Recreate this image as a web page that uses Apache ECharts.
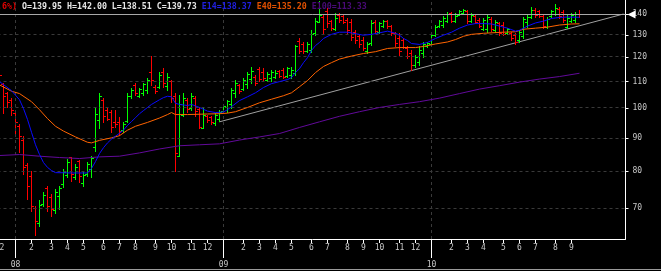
<!DOCTYPE html>
<html><head><meta charset="utf-8">
<style>html,body{margin:0;padding:0;background:#000;}#c{width:661px;height:271px;}</style>
<script src="https://cdn.jsdelivr.net/npm/echarts@6/dist/echarts.min.js"></script>
</head><body><div id="c"></div>
<script>
// ---- data ----
const startWeek = '2007-12-07';   // first weekly bar (Friday)
const weekCount = 157;            // weekly slots on the axis
const yTicks = [70, 80, 90, 100, 110, 120, 130, 140];
const yRange = [62.74, 147.17];   // log price axis range
const changeText = '(-0.6%)';
// weekly bars: [open, high, low, close]
const ohlc = [
[113.8,114.5,111.5,112.4],[108.8,109.2,98.1,104.2],[105.4,105.8,100.4,102.0],[103.0,103.5,97.4,99.2],
[98.1,98.8,91.5,95.1],[93.8,94.5,85.3,90.3],[89.0,90.3,79.0,81.0],[81.5,82.2,72.3,75.7],
[78.4,79.8,69.1,70.5],[70.0,70.5,63.5,66.7],[66.4,72.1,65.7,70.8],[71.0,74.1,70.5,73.3],
[75.2,75.7,69.1,70.5],[72.8,73.6,68.1,69.8],[69.4,74.9,68.8,74.1],[73.1,75.7,69.8,75.2],
[76.2,80.4,75.4,79.4],[78.8,83.3,78.2,82.4],[83.9,83.9,77.0,79.0],[78.2,81.8,77.6,80.9],
[82.7,82.9,76.8,78.5],[76.5,79.8,75.7,78.8],[79.0,82.4,78.5,81.8],[80.4,84.2,78.2,83.6],
[86.9,99.9,85.7,97.8],[95.8,105.4,93.1,104.2],[102.8,103.5,95.1,97.0],[99.2,99.9,95.8,96.2],
[98.5,99.2,91.9,93.5],[95.1,99.2,93.5,94.5],[95.1,96.7,90.9,92.2],[92.5,95.1,91.9,94.5],
[95.5,105.4,95.1,104.2],[104.2,107.3,103.5,106.5],[108.4,109.2,104.6,105.4],[104.2,107.3,103.9,106.9],
[105.4,109.2,104.6,108.8],[106.5,111.2,105.4,110.4],[113.6,120.1,108.4,110.4],[107.7,108.4,105.4,106.1],
[107.7,113.6,107.3,112.4],[113.6,115.2,107.7,109.2],[108.0,113.2,106.5,111.6],[110.0,110.4,102.0,103.5],
[104.2,105.4,79.8,85.0],[84.2,104.6,84.2,101.4],[97.4,105.4,97.0,103.5],[102.8,103.5,98.5,99.5],
[99.9,105.4,99.2,104.2],[103.5,104.2,97.0,98.8],[99.5,100.4,93.1,93.5],[93.1,99.9,93.1,97.4],
[97.0,97.4,95.1,95.8],[96.7,97.0,94.5,95.1],[94.8,98.1,94.1,97.4],[96.0,99.2,95.3,98.5],
[98.8,101.0,98.5,100.7],[100.4,102.8,98.5,102.4],[101.4,107.3,100.0,106.5],[105.4,110.4,103.9,109.2],
[108.4,108.8,105.4,106.1],[106.9,111.2,106.5,110.4],[108.8,113.6,107.3,112.8],[110.8,115.6,109.2,114.0],
[111.6,112.4,108.4,109.2],[114.8,115.6,110.0,110.8],[113.6,115.2,110.0,111.2],[110.4,113.6,110.0,112.8],
[111.2,114.4,110.0,113.6],[111.6,114.4,111.2,113.2],[114.0,114.4,111.6,112.0],[114.4,115.2,111.2,111.6],
[112.0,115.6,111.6,115.2],[112.4,115.6,111.2,114.4],[113.2,125.2,112.4,124.7],[127.0,128.3,121.5,122.4],
[125.6,126.5,121.5,122.4],[122.4,126.5,122.0,125.6],[122.9,132.1,122.0,130.2],[130.7,138.0,129.8,136.5],
[136.0,146.5,135.6,139.5],[138.5,139.5,130.7,132.6],[141.5,143.0,133.6,135.1],[136.5,137.0,132.1,133.1],
[132.6,140.5,132.1,138.0],[139.5,140.5,136.0,137.0],[139.0,139.5,135.1,136.0],[137.0,138.0,130.7,132.1],
[135.6,137.5,127.4,128.8],[131.2,132.1,126.0,127.4],[129.3,129.8,124.3,125.6],[127.4,128.8,122.9,123.8],
[122.4,126.5,121.5,125.6],[126.0,137.0,125.2,135.1],[136.0,137.0,130.7,131.7],[131.2,136.0,130.7,135.1],
[134.1,137.0,133.6,136.5],[136.5,137.0,133.1,134.1],[134.1,134.6,129.8,130.7],[130.7,131.2,124.7,126.0],
[128.3,130.7,120.7,122.4],[127.4,128.3,123.8,124.3],[123.8,124.7,119.4,120.3],[121.5,122.9,114.4,116.5],
[116.5,120.7,115.6,119.8],[117.7,124.7,116.5,122.9],[121.5,126.5,119.8,125.6],[124.7,126.5,124.3,126.0],
[125.6,130.7,125.2,129.8],[129.8,134.6,129.3,133.6],[134.1,137.0,133.6,136.5],[134.6,139.0,133.6,138.0],
[136.5,141.0,136.0,140.0],[140.5,141.0,136.0,136.5],[136.5,140.5,136.0,139.0],[139.5,142.0,139.5,141.5],
[140.5,142.5,140.5,142.0],[141.5,142.0,135.1,136.5],[136.5,140.5,135.6,139.5],[139.0,139.5,135.1,135.6],
[137.0,138.0,133.6,134.1],[132.6,138.0,132.1,137.0],[132.6,139.5,131.2,138.5],[137.5,138.5,131.7,132.6],
[132.1,137.0,131.2,135.6],[135.1,135.6,129.8,130.7],[134.6,135.6,129.8,130.2],[130.7,133.1,130.2,132.6],
[130.7,131.2,127.4,128.3],[129.8,130.7,125.6,126.5],[127.4,132.1,126.5,131.2],[129.3,138.5,128.3,137.5],
[136.0,139.5,133.6,138.5],[138.5,143.5,138.0,142.0],[142.0,143.0,138.5,139.5],[141.5,142.0,138.5,139.0],
[139.0,139.5,133.1,134.1],[133.6,138.5,133.1,137.5],[139.0,142.0,138.5,141.5],[140.0,144.6,139.5,143.0],
[142.5,143.5,138.0,139.0],[141.0,142.0,136.0,137.0],[133.6,139.5,133.1,138.0],[136.5,140.5,136.0,139.5],
[137.0,141.0,136.0,140.0],[139.95,142.00,138.51,139.73]
];
// moving averages: [week index, value]
const ema14 = [[0,110.0],[3,106.5],[5,103.1],[6,99.9],[7,96.1],[8,91.8],[9,87.8],[10,84.8],[11,82.4],[12,81.0],[13,80.1],[14,79.5],[18,79.4],[22,79.4],[23,80.7],[24,82.7],[25,85.1],[26,86.9],[27,88.4],[28,89.6],[30,91.5],[31,92.5],[32,94.1],[33,95.4],[34,96.7],[35,98.1],[36,99.2],[37,100.3],[38,101.4],[40,103.1],[41,103.9],[42,104.4],[43,104.2],[44,101.8],[45,101.4],[47,101.0],[48,101.4],[50,100.3],[52,99.0],[54,98.5],[56,98.7],[57,99.5],[58,100.6],[60,102.8],[62,104.2],[64,105.7],[66,107.7],[68,109.2],[70,110.0],[72,110.8],[73,111.6],[74,113.6],[75,115.2],[76,117.7],[77,119.8],[78,122.9],[79,125.1],[80,126.5],[81,128.3],[83,130.2],[85,131.2],[87,131.2],[89,130.5],[91,129.8],[93,130.2],[95,130.9],[97,131.7],[99,130.7],[100,129.8],[101,128.3],[102,127.4],[103,126.0],[105,125.6],[107,126.5],[109,128.3],[111,129.8],[113,131.2],[115,133.1],[117,134.6],[119,135.3],[121,135.3],[123,135.1],[125,134.1],[127,133.1],[129,131.7],[130,132.1],[132,134.1],[134,135.6],[136,136.5],[138,137.8],[140,138.3],[142,138.5],[145,138.37]];
const ema40 = [[0,108.7],[3,106.3],[5,105.4],[8,102.4],[10,99.5],[12,96.4],[14,93.8],[16,92.2],[19,90.3],[22,88.6],[23,88.4],[25,89.2],[28,90.0],[30,90.7],[32,92.5],[34,93.8],[37,95.1],[40,96.6],[42,97.8],[43,98.5],[44,97.8],[47,97.8],[52,98.0],[55,98.1],[57,98.3],[59,98.8],[62,100.3],[65,102.0],[68,103.3],[71,104.6],[73,105.7],[75,108.0],[77,110.4],[79,113.6],[81,116.1],[83,117.7],[85,119.2],[88,120.5],[91,121.6],[94,122.4],[97,123.8],[100,124.2],[104,124.2],[106,124.7],[109,125.8],[112,126.7],[114,127.8],[116,129.3],[118,130.2],[121,130.7],[126,131.2],[129,131.4],[131,132.6],[134,133.1],[137,133.6],[140,134.6],[143,135.1],[145,135.20]];
const ema100 = [[0,84.5],[5,84.8],[10,84.3],[15,83.9],[20,83.6],[25,84.1],[30,84.3],[35,85.3],[40,86.5],[45,87.5],[50,87.8],[55,88.1],[60,89.3],[65,90.3],[70,91.4],[75,93.4],[80,95.3],[85,97.2],[90,98.8],[95,100.3],[100,101.4],[105,102.4],[110,103.7],[115,105.4],[120,107.1],[125,108.4],[130,109.8],[135,111.0],[140,112.0],[145,113.33]];
const trend = [[55,95.3],[156,140.0]];

// ---- build ----
const cats = [];
{ let t = Date.parse(startWeek + 'T00:00:00Z');
  for (let i = 0; i < weekCount; i++) { cats.push(new Date(t).toISOString().slice(0,10)); t += 7*86400000; } }
const nBars = ohlc.length;
const mon = s => +s.slice(5,7);
const isMonthStart = i => i < nBars && (i === 0 || mon(cats[i]) !== mon(cats[i-1]));
const isYearStart = i => i > 0 && i < nBars && cats[i].slice(0,4) !== cats[i-1].slice(0,4);
const monthTick = i => isMonthStart(i) && !isYearStart(i);
const yearIdx = cats.map((c,i)=>i).filter(isYearStart);
const L = Math.log;
const FONT = 'DejaVu Sans Mono';
const TFONT = 'bold 8.3px "' + FONT + '"';
const last = ohlc[nBars-1];
const lastOf = a => a[a.length-1][1].toFixed(2);
const f2 = v => v.toFixed(2);

const chart = echarts.init(document.getElementById('c'), null, {renderer:'canvas'});
const lineS = (name, data, color, z) => ({
  name, type:'line', data: data.map(p => [p[0], L(p[1])]), symbol:'none', silent:true,
  lineStyle:{color, width:1}, z, animation:false
});

chart.setOption({
  backgroundColor:'#000',
  animation:false,
  grid:{left:-2.5, right:35.5, top:0, bottom:32, containLabel:false, outerBoundsMode:'none'},
  xAxis:[
    { type:'category', data:cats, boundaryGap:true, position:'bottom',
      axisLine:{show:true, lineStyle:{color:'#ffffff', width:1}},
      axisTick:{show:true, alignWithLabel:true, length:4, interval:(i)=>monthTick(i), lineStyle:{color:'#ffffff'}},
      axisLabel:{show:true, interval:(i)=>monthTick(i), formatter:(v)=>String(mon(v)), color:'#c8c8c8', fontFamily:FONT, fontSize:8, margin:5},
      splitLine:{show:false} },
    { type:'category', data:cats, boundaryGap:true, position:'bottom', offset:0,
      axisLine:{show:false},
      axisTick:{show:true, alignWithLabel:true, length:19, interval:(i)=>isYearStart(i), lineStyle:{color:'#ffffff'}},
      axisLabel:{show:true, interval:(i)=>isYearStart(i), formatter:(v)=>v.slice(2,4), color:'#c8c8c8', fontFamily:FONT, fontSize:8, margin:22},
      splitLine:{show:false} }
  ],
  yAxis:{ type:'value', position:'right', min:L(yRange[0]), max:L(yRange[1]), scale:true,
    axisLine:{show:true, lineStyle:{color:'#ffffff', width:1}},
    axisTick:{show:true, customValues:yTicks.map(L), length:3, lineStyle:{color:'#ffffff'}},
    axisLabel:{show:true, customValues:yTicks.map(L), formatter:(v)=>String(Math.round(Math.exp(v))), color:'#c8c8c8', fontFamily:FONT, fontSize:8, margin:7},
    splitLine:{show:false} },
  graphic:[
    { type:'text', x:-18, y:7, silent:true, z:100,
      style:{ text:'{r|'+changeText+'} {w|O='+f2(last[0])+' H='+f2(last[1])+' L='+f2(last[2])+' C='+f2(last[3])+'} {b|E14='+lastOf(ema14)+'} {o|E40='+lastOf(ema40)+'} {p|E100='+lastOf(ema100)+'}',
        font:TFONT, fill:'#e0e0e0', verticalAlign:'middle',
        rich:{ r:{fill:'#e00000', font:TFONT}, w:{fill:'#e6e6e6', font:TFONT},
               b:{fill:'#2020e0', font:TFONT}, o:{fill:'#e05000', font:TFONT},
               p:{fill:'#4a0a78', font:TFONT} } } },
    { type:'rect', shape:{x:0, y:269, width:661, height:1}, style:{fill:'#9a9a9a'}, silent:true }
  ],
  series:[
    { name:'grid', type:'line', data:[], z:1, silent:true,
      markLine:{ silent:true, symbol:'none', animation:false, label:{show:false},
        lineStyle:{color:'#3a3a3a', type:[3,3], width:1},
        data:[ ...yTicks.map(t=>({yAxis:L(t)})), ...yearIdx.map(i=>({xAxis:i})) ] } },
    lineS('trend', trend, '#a0a0a0', 3),
    { name:'bars', type:'custom', z:4, silent:true, clip:true,
      data: ohlc.map((r,i)=>[i, L(r[0]), L(r[1]), L(r[2]), L(r[3])]),
      encode:{x:0, y:[1,2,3,4]},
      renderItem:(params, api)=>{
        const i = api.value(0);
        const o = api.coord([i, api.value(1)]), h = api.coord([i, api.value(2)]);
        const l = api.coord([i, api.value(3)]), c = api.coord([i, api.value(4)]);
        const col = Math.floor(o[0]);
        const color = api.value(4) >= api.value(1) ? '#00ff00' : '#ff0000';
        const ry = y => Math.round(y - 0.5);
        const top = ry(h[1]), bot = ry(l[1]);
        return { type:'group', children:[
          {type:'rect', shape:{x:col, y:top, width:1, height:Math.max(1, bot-top+1)}, style:{fill:color}},
          {type:'rect', shape:{x:col-2, y:ry(o[1]), width:2, height:1}, style:{fill:color}},
          {type:'rect', shape:{x:col+1, y:ry(c[1]), width:2, height:1}, style:{fill:color}}
        ]};
      },
      markLine:{ silent:true, symbol:'none', animation:false, label:{show:false},
        lineStyle:{color:'#a8a8a8', type:'solid', width:1},
        data:[{yAxis:L(last[3])}] },
      markPoint:{ silent:true, animation:false, label:{show:false},
        data:[{coord:[weekCount-1, L(last[3])], symbol:'triangle', symbolSize:[8,8], symbolRotate:90, symbolOffset:[8,0], itemStyle:{color:'#ffffff'}}] }
    },
    lineS('E100', ema100, '#620a9a', 5),
    lineS('E40', ema40, '#ff6400', 6),
    lineS('E14', ema14, '#0a0aff', 7)
  ]
});
</script>
</body></html>
